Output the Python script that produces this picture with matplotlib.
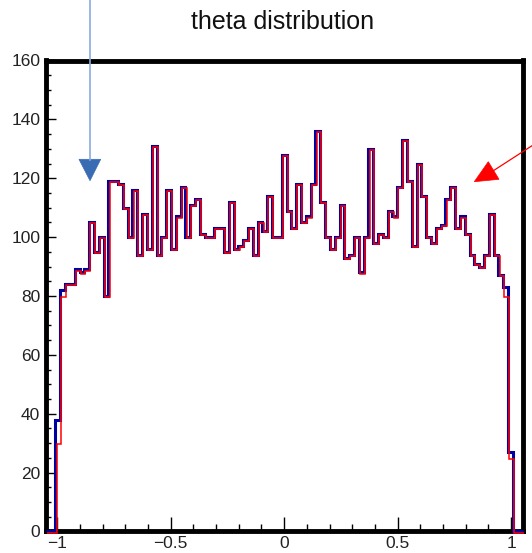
import numpy as np
import matplotlib
matplotlib.use("Agg")
import matplotlib.pyplot as plt
from matplotlib.transforms import ScaledTranslation, IdentityTransform
from matplotlib.patches import Polygon
from matplotlib.lines import Line2D
from matplotlib.ticker import MultipleLocator

plt.rcParams['font.family'] = ['Liberation Sans', 'DejaVu Sans']

# ---------------- data ----------------
title = "theta distribution"
x_min, x_max = -1.05, 1.05
n_bins = 99

blue_counts = [
    0, 0, 38, 82, 84, 84, 89, 88, 89, 105,
    95, 100, 80, 119, 119, 118, 110, 100, 116, 94,
    108, 96, 131, 94, 100, 116, 96, 107, 117, 100,
    111, 113, 101, 100, 100, 103, 103, 95, 112, 96,
    97, 99, 103, 94, 105, 102, 114, 100, 100, 128,
    109, 103, 118, 105, 107, 118, 136, 112, 100, 96,
    100, 111, 93, 94, 100, 88, 100, 130, 98, 101,
    100, 109, 107, 117, 133, 119, 97, 125, 114, 100,
    98, 103, 104, 113, 117, 103, 107, 101, 94, 91,
    90, 94, 108, 94, 87, 83, 27, 0, 0,
]
red_counts = [
    0, 0, 30, 80, 84, 84, 89, 88, 89, 105,
    95, 100, 80, 119, 119, 118, 110, 100, 116, 94,
    108, 96, 131, 94, 100, 116, 96, 107, 117, 100,
    111, 113, 101, 100, 100, 103, 103, 95, 112, 96,
    97, 99, 103, 94, 105, 102, 114, 100, 100, 128,
    109, 103, 118, 105, 107, 118, 136, 112, 100, 96,
    100, 111, 93, 94, 100, 88, 100, 130, 98, 101,
    100, 109, 107, 117, 133, 119, 97, 125, 114, 100,
    98, 103, 104, 113, 117, 103, 107, 101, 94, 91,
    90, 94, 108, 94, 87, 80, 25, 0, 0,
]

xticks = [-1, -0.5, 0, 0.5, 1]
xtick_labels = ["\u22121", "\u22120.5", "0", "0.5", "1"]
yticks = [0, 20, 40, 60, 80, 100, 120, 140, 160]
ytick_labels = ["0", "20", "40", "60", "80", "100", "120", "140", "160"]

# ---------------- figure ----------------
W, H = 532, 553
fig = plt.figure(figsize=(W / 100, H / 100), dpi=100)
fig.patch.set_facecolor("white")

left, right, top, bottom = 45.8, 522.5, 60.5, 531.4
ax = fig.add_axes([left / W, 1 - bottom / H, (right - left) / W, (bottom - top) / H])

edges = np.linspace(x_min, x_max, n_bins + 1)
ax.stairs(blue_counts, edges, color="#0000a0", linewidth=2.2, zorder=3, clip_on=False)
red_off = ax.transData + ScaledTranslation(0.8 / 72, -0.8 / 72, fig.dpi_scale_trans)
ax.stairs(red_counts, edges, color="#ff0000", linewidth=1.1, zorder=3.1,
          transform=red_off, clip_on=False)

ax.set_xlim(x_min, x_max)
ax.set_ylim(0, 160)

ax.set_xticks(xticks, xtick_labels)
ax.set_xticks(np.round(np.arange(-1.0, 1.001, 0.1), 2), minor=True)
ax.set_yticks(yticks, ytick_labels)
ax.yaxis.set_minor_locator(MultipleLocator(5))

ax.tick_params(axis="x", which="major", direction="in", length=10, width=1.0,
               labelsize=12.5, pad=3, top=False, colors="black")
ax.tick_params(axis="x", which="minor", direction="in", length=5, width=1.0, top=False)
ax.tick_params(axis="y", which="major", direction="in", length=7.2, width=1.0,
               labelsize=12.5, pad=4, right=False)
ax.tick_params(axis="y", which="minor", direction="in", length=3.3, width=1.0, right=False)
for lab in ax.get_xticklabels() + ax.get_yticklabels():
    lab.set_color("#222222")

for s in ax.spines.values():
    s.set_linewidth(3.5)
    s.set_color("black")

fig.text(283 / W, 1 - 29 / H, title, ha="center", va="baseline", fontsize=18, color="#111111")

# ---------------- annotation arrows (figure pixels, origin top-left) ----------------
ident = IdentityTransform()


def px(x, y):
    return (x, H - y)


# blue arrow
bx0, by0 = px(90, 0)
bx1, by1 = px(90, 160)
fig.add_artist(Line2D([bx0, bx1], [by0, by1], color="#8aaade", linewidth=1.2,
                      transform=ident))
fig.add_artist(Polygon([px(79, 159.3), px(100.7, 159.3), px(90, 180.7)], closed=True,
                       facecolor="#3a6cb4", edgecolor="#3a6cb4", linewidth=0.5,
                       transform=ident))

# red arrow
rx0, ry0 = px(532, 145.7)
rx1, ry1 = px(493.7, 170.5)
fig.add_artist(Line2D([rx0, rx1], [ry0, ry1], color="#ff0000", linewidth=0.9,
                      transform=ident))
fig.add_artist(Polygon([px(474.3, 181.7), px(488.3, 161.7), px(499, 179.3)], closed=True,
                       facecolor="#ff0000", edgecolor="#ff0000", linewidth=0.5,
                       transform=ident))

fig.savefig("out.png", dpi=100, facecolor="white")
